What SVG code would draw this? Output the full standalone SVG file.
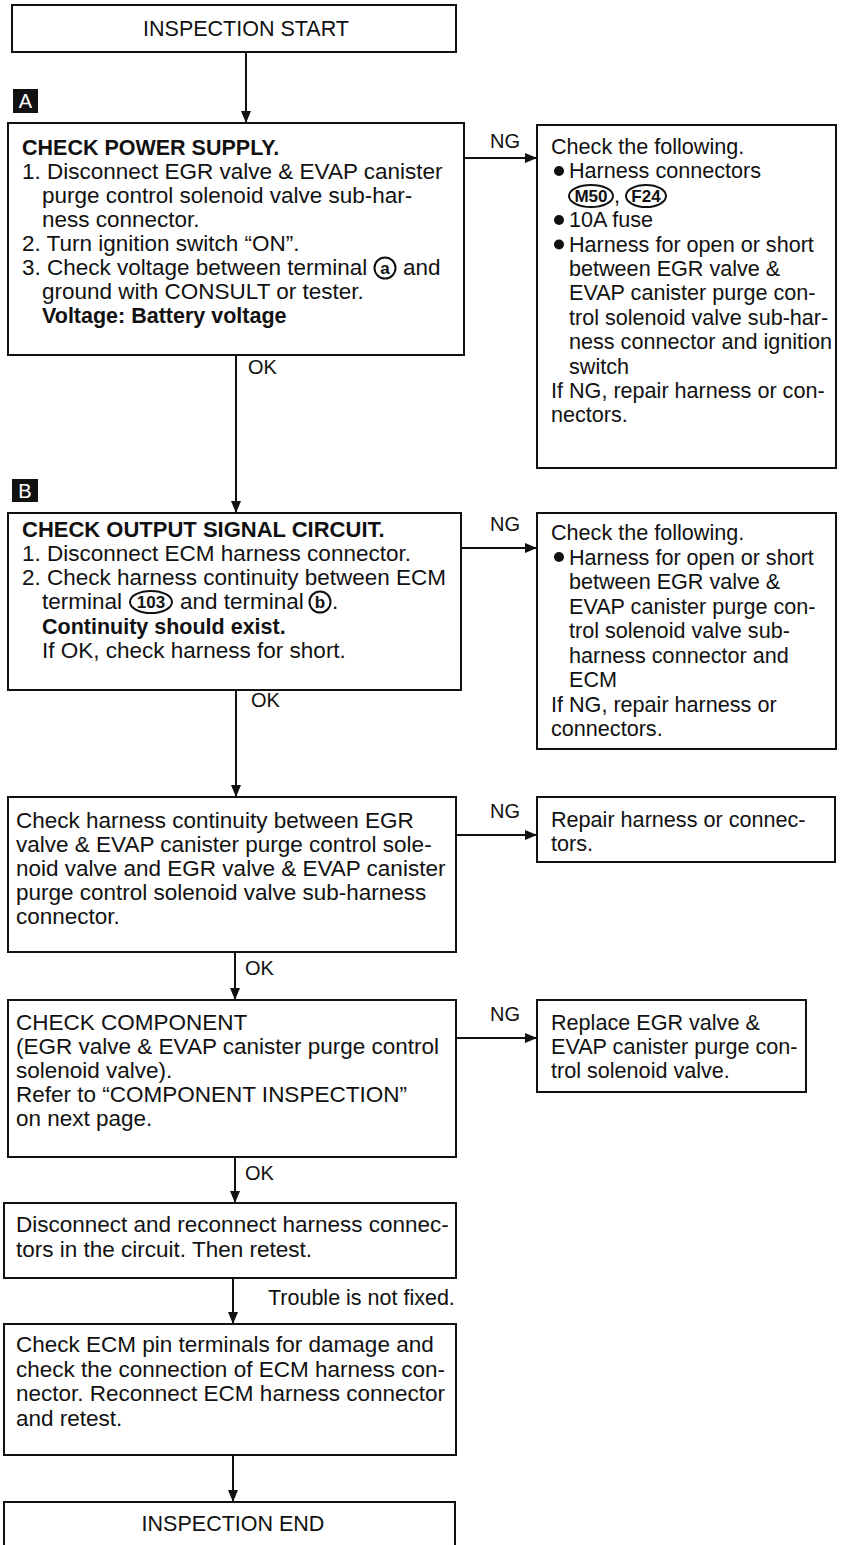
<svg xmlns="http://www.w3.org/2000/svg" width="854" height="1545" viewBox="0 0 854 1545">
<style>
.box{fill:#fff;stroke:#111;stroke-width:2}
.t{font-family:"Liberation Sans",Arial,sans-serif;font-size:22.5px;fill:#111}
.r{font-size:21.6px}
.b{font-weight:bold;font-size:21.5px}
.c{text-anchor:middle;font-size:21.5px}
.sym{fill:none;stroke:#111;stroke-width:2}
.symt{font-family:"Liberation Sans",Arial,sans-serif;font-size:17px;font-weight:bold;fill:#111;text-anchor:middle}
.bul{fill:#111}
.lbl{font-family:"Liberation Sans",Arial,sans-serif;font-size:20px;fill:#111}
#connectors line{stroke:#111;stroke-width:2;marker-end:url(#ah)}
</style>
<defs>
<marker id="ah" viewBox="0 0 12 12" refX="12" refY="6" markerWidth="12" markerHeight="12" orient="auto" markerUnits="userSpaceOnUse">
<path d="M0,1 L12,6 L0,11 z" fill="#111"/>
</marker>
</defs>
<rect width="854" height="1545" fill="#fff"/>

<g id="start">
<rect class="box" x="12" y="5" width="444" height="47"/>
<text class="t c" x="246" y="36">INSPECTION START</text>
</g>

<g id="labelA">
<rect x="13" y="89" width="25" height="24" fill="#111"/>
<text x="25.5" y="108" font-family="Liberation Sans,Arial,sans-serif" font-size="20" fill="#fff" text-anchor="middle">A</text>
</g>

<g id="boxA">
<rect class="box" x="8" y="123" width="456" height="232"/>
<text class="t b" x="22" y="155">CHECK POWER SUPPLY.</text>
<text class="t" x="22" y="179">1. Disconnect EGR valve &amp; EVAP canister</text>
<text class="t" x="42" y="203">purge control solenoid valve sub-har-</text>
<text class="t" x="42" y="227">ness connector.</text>
<text class="t" x="22" y="251">2. Turn ignition switch “ON”.</text>
<text class="t" x="22" y="275">3. Check voltage between terminal</text>
<circle class="sym" cx="385" cy="268" r="10.5"/>
<text class="symt" x="385" y="274">a</text>
<text class="t" x="403" y="275">and</text>
<text class="t" x="42" y="299">ground with CONSULT or tester.</text>
<text class="t b" x="42" y="323">Voltage: Battery voltage</text>
</g>

<g id="ngA">
<rect class="box" x="537" y="125" width="299" height="343"/>
<text class="t r" x="551" y="154">Check the following.</text>
<circle class="bul" cx="559" cy="171" r="5"/>
<text class="t r" x="569" y="178.4">Harness connectors</text>
<ellipse class="sym" cx="591" cy="196" rx="22" ry="11"/>
<text class="symt" x="591" y="202">M50</text>
<text class="t r" x="614" y="202.8">,</text>
<ellipse class="sym" cx="646" cy="196" rx="20" ry="11"/>
<text class="symt" x="646" y="202">F24</text>
<circle class="bul" cx="559" cy="220" r="5"/>
<text class="t r" x="569" y="227.2">10A fuse</text>
<circle class="bul" cx="559" cy="244.5" r="5"/>
<text class="t r" x="569" y="251.6">Harness for open or short</text>
<text class="t r" x="569" y="276">between EGR valve &amp;</text>
<text class="t r" x="569" y="300.4">EVAP canister purge con-</text>
<text class="t r" x="569" y="324.8">trol solenoid valve sub-har-</text>
<text class="t r" x="569" y="349.2">ness connector and ignition</text>
<text class="t r" x="569" y="373.6">switch</text>
<text class="t r" x="551" y="398">If NG, repair harness or con-</text>
<text class="t r" x="551" y="422.4">nectors.</text>
</g>

<g id="labelB">
<rect x="12" y="479" width="26" height="23" fill="#111"/>
<text x="25" y="498" font-family="Liberation Sans,Arial,sans-serif" font-size="20" fill="#fff" text-anchor="middle">B</text>
</g>

<g id="boxB">
<rect class="box" x="8" y="513" width="453" height="177"/>
<text class="t b" x="22" y="537" style="font-size:22px">CHECK OUTPUT SIGNAL CIRCUIT.</text>
<text class="t" x="22" y="561">1. Disconnect ECM harness connector.</text>
<text class="t" x="22" y="585">2. Check harness continuity between ECM</text>
<text class="t" x="42" y="609">terminal</text>
<ellipse class="sym" cx="151" cy="602" rx="21" ry="11"/>
<text class="symt" x="151" y="608">103</text>
<text class="t" x="180" y="609">and terminal</text>
<circle class="sym" cx="320" cy="602" r="10.5"/>
<text class="symt" x="320" y="608">b</text>
<text class="t" x="332" y="609">.</text>
<text class="t b" x="42" y="634">Continuity should exist.</text>
<text class="t" x="42" y="658">If OK, check harness for short.</text>
</g>

<g id="ngB">
<rect class="box" x="537" y="513" width="299" height="236"/>
<text class="t r" x="551" y="540">Check the following.</text>
<circle class="bul" cx="559" cy="557" r="5"/>
<text class="t r" x="569" y="564.5">Harness for open or short</text>
<text class="t r" x="569" y="589">between EGR valve &amp;</text>
<text class="t r" x="569" y="613.5">EVAP canister purge con-</text>
<text class="t r" x="569" y="638">trol solenoid valve sub-</text>
<text class="t r" x="569" y="662.5">harness connector and</text>
<text class="t r" x="569" y="687">ECM</text>
<text class="t r" x="551" y="711.5">If NG, repair harness or</text>
<text class="t r" x="551" y="736">connectors.</text>
</g>

<g id="boxC">
<rect class="box" x="8" y="797" width="448" height="155"/>
<text class="t" x="16" y="828">Check harness continuity between EGR</text>
<text class="t" x="16" y="852">valve &amp; EVAP canister purge control sole-</text>
<text class="t" x="16" y="876">noid valve and EGR valve &amp; EVAP canister</text>
<text class="t" x="16" y="900">purge control solenoid valve sub-harness</text>
<text class="t" x="16" y="924">connector.</text>
</g>

<g id="ngC">
<rect class="box" x="537" y="797" width="298" height="65"/>
<text class="t r" x="551" y="827">Repair harness or connec-</text>
<text class="t r" x="551" y="851">tors.</text>
</g>

<g id="boxD">
<rect class="box" x="8" y="1000" width="448" height="157"/>
<text class="t" x="16" y="1030">CHECK COMPONENT</text>
<text class="t" x="16" y="1054">(EGR valve &amp; EVAP canister purge control</text>
<text class="t" x="16" y="1078">solenoid valve).</text>
<text class="t" x="16" y="1102">Refer to “COMPONENT INSPECTION”</text>
<text class="t" x="16" y="1126">on next page.</text>
</g>

<g id="ngD">
<rect class="box" x="537" y="1000" width="269" height="92"/>
<text class="t r" x="551" y="1030">Replace EGR valve &amp;</text>
<text class="t r" x="551" y="1054">EVAP canister purge con-</text>
<text class="t r" x="551" y="1078">trol solenoid valve.</text>
</g>

<g id="boxE">
<rect class="box" x="4" y="1203" width="452" height="75"/>
<text class="t" x="16" y="1232">Disconnect and reconnect harness connec-</text>
<text class="t" x="16" y="1257">tors in the circuit. Then retest.</text>
</g>

<g id="boxF">
<rect class="box" x="4" y="1324" width="452" height="131"/>
<text class="t" x="16" y="1352">Check ECM pin terminals for damage and</text>
<text class="t" x="16" y="1377">check the connection of ECM harness con-</text>
<text class="t" x="16" y="1401">nector. Reconnect ECM harness connector</text>
<text class="t" x="16" y="1426">and retest.</text>
</g>

<g id="end">
<rect class="box" x="4" y="1502" width="451" height="60"/>
<text class="t c" x="233" y="1531">INSPECTION END</text>
</g>

<g id="connectors">
<line x1="246" y1="52" x2="246" y2="123"/>
<line x1="464" y1="158" x2="537" y2="158"/>
<line x1="236" y1="355" x2="236" y2="513"/>
<line x1="461" y1="548" x2="537" y2="548"/>
<line x1="236" y1="690" x2="236" y2="797"/>
<line x1="456" y1="835" x2="537" y2="835"/>
<line x1="235" y1="952" x2="235" y2="1000"/>
<line x1="456" y1="1038" x2="537" y2="1038"/>
<line x1="235" y1="1157" x2="235" y2="1203"/>
<line x1="233" y1="1278" x2="233" y2="1324"/>
<line x1="233" y1="1455" x2="233" y2="1502"/>
<text class="lbl" x="490" y="148">NG</text>
<text class="lbl" x="248" y="374">OK</text>
<text class="lbl" x="490" y="531">NG</text>
<text class="lbl" x="251" y="707">OK</text>
<text class="lbl" x="490" y="818">NG</text>
<text class="lbl" x="245" y="975">OK</text>
<text class="lbl" x="490" y="1021">NG</text>
<text class="lbl" x="245" y="1180">OK</text>
<text class="lbl" x="268" y="1305" style="font-size:21.5px">Trouble is not fixed.</text>
</g>
</svg>
